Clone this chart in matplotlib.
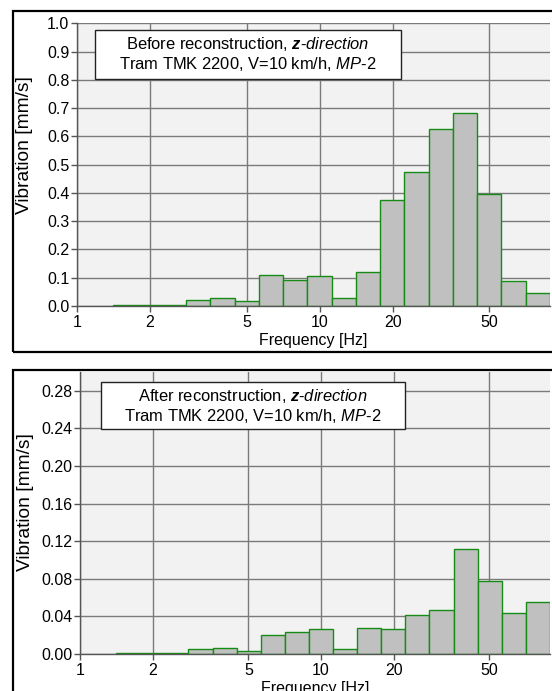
import numpy as np
import matplotlib
matplotlib.use("Agg")
import matplotlib.pyplot as plt
from matplotlib.patches import Rectangle
from matplotlib.ticker import FixedLocator, FormatStrFormatter, NullLocator

plt.rcParams['font.family'] = ['Liberation Sans', 'DejaVu Sans']
plt.rcParams['mathtext.fontset'] = 'custom'
plt.rcParams['mathtext.rm'] = 'Liberation Sans'
plt.rcParams['mathtext.it'] = 'Liberation Sans:italic'
plt.rcParams['mathtext.bf'] = 'Liberation Sans:bold'
plt.rcParams['mathtext.bfit'] = 'Liberation Sans:bold:italic'

# 1/3 octave bands (nominal centre frequencies, Hz)
band_hz = [1.6, 2, 2.5, 3.15, 4, 5, 6.3, 8, 10, 12.5, 16, 20, 25, 31.5, 40, 50, 63, 80]
before_mm_s = [0.004, 0.004, 0.004, 0.021, 0.030, 0.017, 0.108, 0.092, 0.105, 0.030,
               0.120, 0.375, 0.475, 0.625, 0.683, 0.397, 0.089, 0.046]
after_mm_s = [0.0007, 0.0008, 0.0008, 0.0053, 0.0064, 0.0032, 0.0202, 0.0237, 0.0266, 0.0053,
              0.0276, 0.0266, 0.0415, 0.0471, 0.1117, 0.0780, 0.0436, 0.0553]
x_ticks = [1, 2, 5, 10, 20, 50]
title_before = ["Before reconstruction, $\\mathbfit{z}$-$\\mathit{direction}$",
                "Tram TMK 2200, V=10 km/h, $\\mathit{MP}$-$\\mathit{2}$"]
title_after = ["After reconstruction, $\\mathbfit{z}$-$\\mathit{direction}$",
               "Tram TMK 2200, V=10 km/h, $\\mathit{MP}$-$\\mathit{2}$"]

# band edges from exact preferred numbers
n = np.round(10 * np.log10(band_hz))
lo = 10 ** ((n - 0.5) / 10)
hi = 10 ** ((n + 0.5) / 10)
x_max = 10 ** 1.95

W, H = 552, 691
fig = plt.figure(figsize=(W / 100, H / 100), dpi=100)

FS = 11.5


def px_rect(l, t, r, b):
    return [l / W, 1 - b / H, (r - l) / W, (b - t) / H]


def draw_panel(ax, vals, ymax, yticks, yfmt, lines, box, ylab_xy):
    ax.set_facecolor('#f2f2f2')
    ax.bar(lo, vals, width=hi - lo, align='edge', color='#c0c0c0',
           edgecolor='#168c16', linewidth=1.0, zorder=3)
    ax.set_xscale('log')
    ax.set_xlim(1, x_max)
    ax.set_ylim(0, ymax)
    ax.xaxis.set_major_locator(FixedLocator(x_ticks))
    ax.xaxis.set_minor_locator(NullLocator())
    ax.set_xticklabels([str(t) for t in x_ticks])
    ax.set_yticks(yticks)
    ax.yaxis.set_major_formatter(FormatStrFormatter(yfmt))
    ax.grid(True, color='#7a7a7a', linewidth=1.0, zorder=1)
    ax.set_axisbelow(True)
    for s in ['top', 'right']:
        ax.spines[s].set_visible(False)
    for s in ['left', 'bottom']:
        ax.spines[s].set_color('#555555')
        ax.spines[s].set_linewidth(1.0)
        ax.spines[s].set_zorder(4)
    ax.tick_params(axis='both', direction='out', length=4, width=1, color='#555555',
                   labelsize=FS, pad=1.5)
    ax.tick_params(axis='x', pad=2.5)
    ax.set_ylabel("Vibration [mm/s]", fontsize=13.8)
    ax.yaxis.set_label_coords(*ylab_xy)
    ax.set_xlabel("Frequency [Hz]", fontsize=FS, labelpad=2)
    bx0, by0, bx1, by1 = box
    ax.add_patch(Rectangle((bx0, by0), bx1 - bx0, by1 - by0, transform=ax.transAxes,
                           facecolor='white', edgecolor='#222222', linewidth=1.0, zorder=6))
    ax.text((bx0 + bx1) / 2, (by0 + by1) / 2, "\n".join(lines), transform=ax.transAxes,
            ha='center', va='center', fontsize=11.9, linespacing=1.15, zorder=7)


ax1 = fig.add_axes(px_rect(77, 23.3, 550, 306))
draw_panel(ax1, before_mm_s, 1.0, np.arange(0, 1.01, 0.1), '%.1f', title_before,
           (0.038, 0.803, 0.685, 0.977), (-0.092, 0.57))

ax2 = fig.add_axes(px_rect(80, 372, 550, 654))
draw_panel(ax2, after_mm_s, 0.30, np.arange(0, 0.281, 0.04), '%.2f', title_after,
           (0.045, 0.798, 0.691, 0.964), (-0.098, 0.54))

# frames around the two panels
fig.patches.append(Rectangle((12.7 / W, 1 - 351.7 / H), 1.0, (351.7 - 11) / H,
                             transform=fig.transFigure, fill=False, edgecolor='black',
                             linewidth=1.6))
fig.patches.append(Rectangle((13 / W, -0.1), 1.0, (1 - 370 / H) + 0.1,
                             transform=fig.transFigure, fill=False, edgecolor='black',
                             linewidth=1.6))

fig.savefig("out.png", dpi=100)
